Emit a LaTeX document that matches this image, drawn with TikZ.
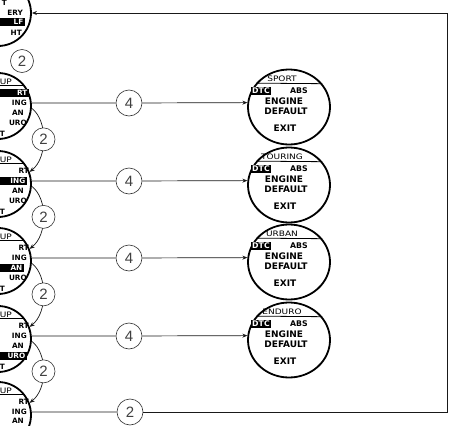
\documentclass[tikz,border=0pt]{standalone}
\usepackage{fontspec}
\newfontfamily\lcdfont{DejaVu Sans}
\newfontfamily\lcdhead[FakeStretch=1.2]{DejaVu Sans}
\newfontfamily\numfont{Liberation Sans}
\usetikzlibrary{arrows.meta,shapes.geometric}

\tikzset{
  menuL/.style={circle, draw, line width=1.8pt, minimum size=66pt, inner sep=0pt},
  menuR/.style={ellipse, draw, line width=1.8pt, minimum width=82pt, minimum height=75pt, inner sep=0pt},
  badge/.style={circle, draw=black!80, line width=0.6pt, fill=white, minimum size=26pt,
    inner sep=0pt, text=black!75, font=\numfont\fontsize{15}{15}\selectfont},
  badgeS/.style={badge, minimum size=23pt},
  conn/.style={line width=0.7pt, draw=black!90},
  tip/.style={-{Stealth[length=5pt,width=4pt]}},
  rule/.style={line width=0.8pt},
  head/.style={inner sep=0pt, text height=5pt, text depth=0pt,
    font=\lcdhead\fontsize{7.5}{7.5}\selectfont},
  item/.style={inner sep=0pt, text height=6.5pt, text depth=0pt,
    font=\lcdfont\bfseries\fontsize{9}{9}\selectfont},
  tag/.style={inner sep=0pt, text height=5.6pt, text depth=0pt,
    font=\lcdfont\bfseries\fontsize{7.8}{7.8}\selectfont},
  itemS/.style={inner sep=0pt, text height=5.3pt, text depth=0pt,
    font=\lcdfont\bfseries\fontsize{7.3}{7.3}\selectfont},
  hilite/.style={fill=black, text=white, inner xsep=1.5pt, inner ysep=1pt},
  hiliteL/.style={fill=black, text=white, text width=38pt, align=right,
    inner xsep=1.5pt, inner ysep=1pt},
}

% setup menu, cut by the left edge: #1 name, #2 centre y, #3 highlighted row
\newcommand\leftmenu[3]{%
  \tikzset{rowA/.style={itemS},rowB/.style={itemS},rowC/.style={itemS},rowD/.style={itemS}}%
  \ifcase#3\or\tikzset{rowA/.style={itemS,hiliteL}}%
  \or\tikzset{rowB/.style={itemS,hiliteL}}%
  \or\tikzset{rowC/.style={itemS,hiliteL}}%
  \or\tikzset{rowD/.style={itemS,hiliteL}}\fi
  \node[menuL] (#1) at (-2,#2) {};
  \draw[rule] (#1.143) -- (#1.37);
  \node[head, anchor=east] (#1h) at (12,#2-24) {UP};
  \node[rowA, anchor=east] (#1a) at (29,#2-13) {RT};
  \node[rowB, anchor=east] (#1b) at (27,#2-3) {ING};
  \node[rowC, anchor=east] (#1c) at (24,#2+7) {AN};
  \node[rowD, anchor=east] (#1d) at (27,#2+17) {URO};
  \node[itemS, anchor=east] (#1e) at (5,#2+28) {T};
}

% riding-mode menu: #1 name, #2 centre y, #3 title
\newcommand\rightmenu[3]{%
  \node[menuR] (#1) at (289,#2) {};
  \draw[rule] (#1.144.4) -- (#1.35.6);
  \node[head] (#1h) at (282,#2-28) {#3};
  \node[tag, hilite] (#1d) at (261,#2-16) {DTC};
  \node[tag] (#1a) at (299,#2-16) {ABS};
  \node[item] (#1e) at (284,#2-6) {ENGINE};
  \node[item] (#1f) at (286,#2+4) {DEFAULT};
  \node[item] (#1x) at (285,#2+21) {EXIT};
}

\begin{document}
\begin{tikzpicture}[x=1pt, y=-1pt]
\useasboundingbox (0,0) rectangle (459,426);
\clip (0,0) rectangle (459,426);

% top menu
\node[menuL] (l1) at (-2,13) {};
\node[itemS, anchor=east] (l1a) at (7,3) {T};
\node[itemS, anchor=east] (l1b) at (23,13) {ERY};
\node[itemS, hiliteL, anchor=east] (l1c) at (25,22) {LF};
\node[itemS, anchor=east] (l1d) at (22,33) {HT};
\node[badgeS] (k1) at (22,61) {2};

% setup menus
\leftmenu{l2}{106}{1}
\leftmenu{l3}{184}{2}
\leftmenu{l4}{261}{3}
\leftmenu{l5}{339}{4}

% last setup menu, running off the bottom edge
\node[menuL] (l6) at (-2,415) {};
\draw[rule] (l6.143) -- (l6.37);
\node[head, anchor=east] (l6h) at (12,391) {UP};
\node[itemS, anchor=east] (l6a) at (29,402) {RT};
\node[itemS, anchor=east] (l6b) at (27,412) {ING};
\node[itemS, anchor=east] (l6c) at (24,421) {AN};

% mode menus
\rightmenu{r2}{107}{SPORT}
\rightmenu{r3}{185}{TOURING}
\rightmenu{r4}{262}{URBAN}
\rightmenu{r5}{340}{ENDURO}

% press counts on each row
\node[badge] (f2) at (129,103) {4};
\node[badge] (f3) at (129,181) {4};
\node[badge] (f4) at (129,258) {4};
\node[badge] (f5) at (129,336) {4};
\node[badge] (b2) at (130,412) {2};

\foreach \i in {2,...,5}{
  \draw[conn] (l\i.5) -- (f\i);
  \draw[conn, tip] (f\i) -- (r\i.174.4);
}

% stepping down through the setup menus
\draw[conn, tip] (l2.-4) .. controls +(16,12) and +(18,-14) .. node[badgeS] (k2) {2} (l3.21);
\draw[conn, tip] (l3.-4) .. controls +(16,12) and +(18,-14) .. node[badgeS] (k3) {2} (l4.21);
\draw[conn, tip] (l4.-4) .. controls +(16,12) and +(18,-14) .. node[badgeS] (k4) {2} (l5.21);
\draw[conn, tip] (l5.-4) .. controls +(16,12) and +(18,-14) .. node[badgeS] (k5) {2} (l6.21);

% return loop to the top menu
\coordinate (cb) at (447,412);
\coordinate (ct) at (447,13);
\draw[conn] (l6.5) -- (b2);
\draw[conn, tip] (b2) -- (cb) -- (ct) -- (l1);
\end{tikzpicture}
\end{document}
